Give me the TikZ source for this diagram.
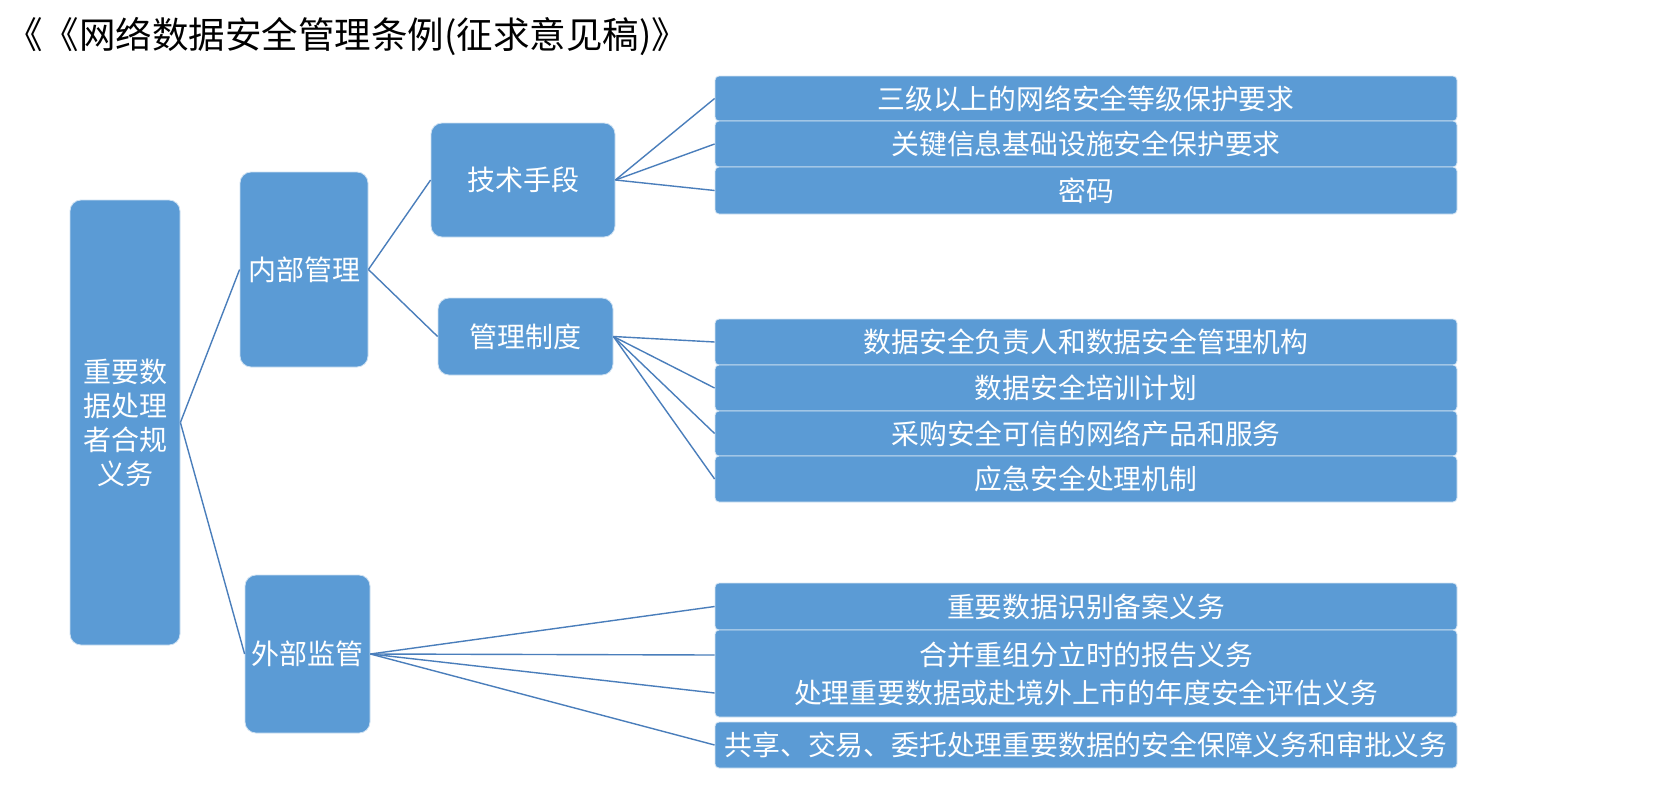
\documentclass[tikz,border=0pt]{standalone}
\usepackage{fontspec}
\newfontfamily\cjk{Noto Sans CJK SC}
\definecolor{boxblue}{HTML}{5B9BD5}
\definecolor{linkblue}{HTML}{4A7EBB}
\begin{document}
\begin{tikzpicture}[x=1pt,y=-1pt,
  bigbox/.style={fill=boxblue, draw=white!70!boxblue, line width=0.8pt, rounded corners=11pt, inner sep=0pt, text=white, font=\cjk\fontsize{28}{34}\selectfont, align=center},
  leafbox/.style={fill=boxblue, draw=white!75!boxblue, line width=0.8pt, rounded corners=4pt, inner sep=0pt, minimum width=742pt, text=white, font=\cjk\fontsize{27.8}{34}\selectfont},
  leaftext/.style={inner sep=0pt, text=white, font=\cjk\fontsize{27.8}{34}\selectfont},
  link/.style={draw=linkblue, line width=1.4pt}]
\useasboundingbox (0,0) rectangle (1678,795);
\fill[white] (0,0) rectangle (1678,795);
% title
\node[anchor=west, inner sep=0pt, font=\cjk\fontsize{36.5}{42}\selectfont] (title) at (6,37) {《《网络数据安全管理条例(征求意见稿)》};
% main boxes
\node[bigbox, minimum width=110pt, minimum height=445pt] (root) at (125,422.5) {重要数\\据处理\\者合规\\义务};
\node[bigbox, minimum width=128pt, minimum height=195pt] (nb) at (304,269.5) {内部管理};
\node[bigbox, minimum width=125pt, minimum height=158pt] (wb) at (307.5,654) {外部监管};
\node[bigbox, minimum width=184pt, minimum height=114pt] (js) at (523,180) {技术手段};
\node[bigbox, minimum width=175pt, minimum height=77pt] (gl) at (525.5,336.5) {管理制度};
% leaves group 1
\node[leafbox, minimum height=45pt] (a1) at (1086,98.5) {三级以上的网络安全等级保护要求};
\node[leafbox, minimum height=46pt] (a2) at (1086,144) {关键信息基础设施安全保护要求};
\node[leafbox, minimum height=47pt] (a3) at (1086,190.5) {密码};
% leaves group 2
\node[leafbox, minimum height=46pt] (b1) at (1086,342) {数据安全负责人和数据安全管理机构};
\node[leafbox, minimum height=46pt] (b2) at (1086,388) {数据安全培训计划};
\node[leafbox, minimum height=45pt] (b3) at (1086,433.5) {采购安全可信的网络产品和服务};
\node[leafbox, minimum height=46pt] (b4) at (1086,479) {应急安全处理机制};
% leaves group 3
\node[leafbox, minimum height=47pt] (c1) at (1086,606.5) {重要数据识别备案义务};
\node[leafbox, minimum height=87pt] (c2) at (1086,673.5) {};
\node[leaftext] (c2a) at (1086,655) {合并重组分立时的报告义务};
\node[leaftext] (c2b) at (1086,693) {处理重要数据或赴境外上市的年度安全评估义务};
\node[leafbox, minimum height=46pt] (c3) at (1086,745) {共享、交易、委托处理重要数据的安全保障义务和审批义务};
% connectors
\draw[link] (root.east) -- (nb.west);
\draw[link] (root.east) -- (wb.west);
\draw[link] (nb.east) -- (js.west);
\draw[link] (nb.east) -- (gl.west);
\draw[link] (js.east) -- (a1.west);
\draw[link] (js.east) -- (a2.west);
\draw[link] (js.east) -- (a3.west);
\draw[link] (gl.east) -- (b1.west);
\draw[link] (gl.east) -- (b2.west);
\draw[link] (gl.east) -- (b3.west);
\draw[link] (gl.east) -- (b4.west);
\draw[link] (wb.east) -- (c1.west);
\draw[link] (wb.east) -- (c2.west |- c2a);
\draw[link] (wb.east) -- (c2.west |- c2b);
\draw[link] (wb.east) -- (c3.west);
\end{tikzpicture}
\end{document}
